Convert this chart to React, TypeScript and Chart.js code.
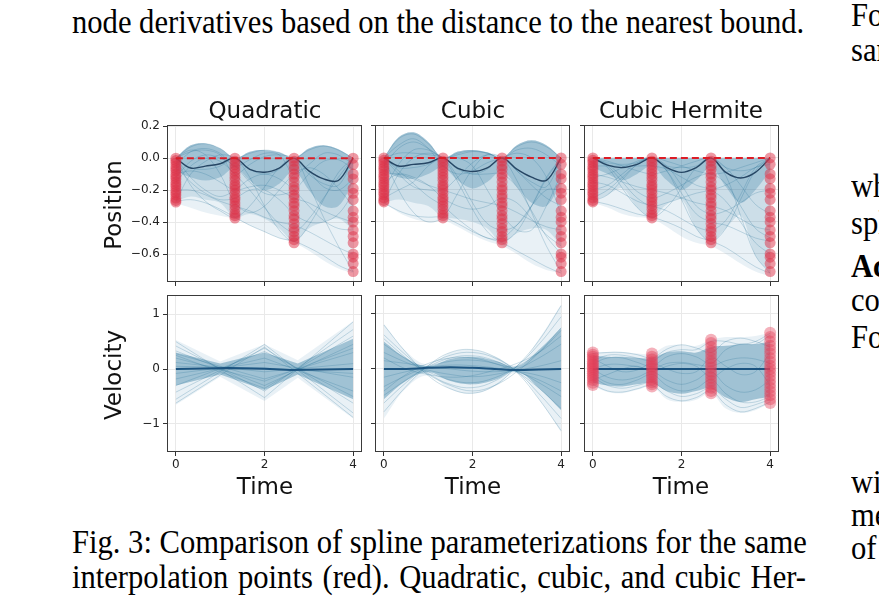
import React, { useEffect, useRef } from "react";
import { Chart, registerables } from "chart.js";
Chart.register(...registerables);

// ---------------- data ----------------
const TIME_TICKS = [0, 2, 4];
const POS_TICKS = [0.2, 0, -0.2, -0.4, -0.6];
const VEL_TICKS = [1, 0, -1];
const NODE_T = [0, 1.333, 2.667, 4];
const T13 = [0, 0.333, 0.667, 1, 1.333, 1.667, 2, 2.333, 2.667, 3, 3.333, 3.667, 4];
const T9 = [0, 0.5, 1, 1.5, 2, 2.5, 3, 3.5, 4];
const REF_T = [0, 4];
const REF_Y = [0, 0];

// interpolation points (red), shared by the three position panels
const RED_P0 = [0, -0.015, -0.03, -0.05, -0.065, -0.08, -0.1, -0.115, -0.13, -0.15, -0.165, -0.18, -0.2, -0.215, -0.23, -0.25, -0.265, -0.275];
const RED_P1 = [0, -0.02, -0.04, -0.06, -0.08, -0.1, -0.12, -0.14, -0.165, -0.18, -0.2, -0.22, -0.245, -0.26, -0.28, -0.3, -0.32, -0.345, -0.36, -0.375];
const RED_P2 = [0, -0.02, -0.05, -0.07, -0.1, -0.12, -0.15, -0.18, -0.2, -0.23, -0.25, -0.28, -0.3, -0.33, -0.36, -0.38, -0.41, -0.44, -0.46, -0.49, -0.51, -0.53];
const RED_P3 = [0, -0.04, -0.1, -0.13, -0.19, -0.22, -0.26, -0.33, -0.37, -0.4, -0.45, -0.49, -0.53, -0.6, -0.62, -0.66, -0.71];

// Quadratic position
const QP_MEAN = [0, -0.062, -0.05, -0.035, 0, -0.07, -0.088, -0.062, 0, -0.08, -0.13, -0.14, 0];
const QP_UP = [0, 0.08, 0.092, 0.06, 0, 0.04, 0.05, 0.035, 0, 0.06, 0.08, 0.055, 0];
const QP_LO = [-0.28, -0.31, -0.34, -0.36, -0.38, -0.42, -0.46, -0.5, -0.53, -0.58, -0.64, -0.69, -0.72];
const QP_CORE_LO = [-0.27, -0.24, -0.26, -0.28, -0.37, -0.35, -0.38, -0.44, -0.52, -0.44, -0.4, -0.38, -0.45];
const QP_DENSE_LO = [-0.08, -0.12, -0.14, -0.12, -0.06, -0.14, -0.2, -0.16, -0.08, -0.2, -0.3, -0.3, -0.15];
const QP_CURVES = [
  [0, 0.07, 0.09, 0.06, 0, 0.03, 0.05, 0.035, 0, 0.05, 0.075, 0.05, 0],
  [0, 0.04, 0.05, 0.02, -0.1, -0.04, 0.01, 0.02, 0, -0.08, -0.18, -0.2, -0.13],
  [-0.27, -0.26, -0.28, -0.32, -0.37, -0.42, -0.46, -0.5, -0.52, -0.56, -0.61, -0.67, -0.71],
  [0, -0.12, -0.2, -0.24, -0.2, -0.13, -0.1, -0.13, -0.2, -0.3, -0.39, -0.44, -0.45],
  [-0.15, -0.05, 0, -0.02, -0.1, -0.2, -0.31, -0.41, -0.46, -0.38, -0.25, -0.12, 0],
  [0, -0.17, -0.27, -0.33, -0.37, -0.3, -0.18, -0.06, 0, -0.17, -0.37, -0.55, -0.71],
  [-0.27, -0.1, -0.02, 0.02, 0, -0.12, -0.3, -0.45, -0.52, -0.42, -0.26, -0.09, 0],
  [-0.1, -0.08, -0.1, -0.15, -0.2, -0.18, -0.17, -0.2, -0.25, -0.28, -0.33, -0.37, -0.4],
  [-0.2, -0.2, -0.23, -0.27, -0.3, -0.33, -0.37, -0.4, -0.42, -0.46, -0.51, -0.56, -0.6],
  [0, -0.06, -0.07, -0.05, 0, -0.07, -0.1, -0.07, 0, -0.1, -0.16, -0.17, 0],
  [-0.05, 0.04, 0.06, 0.03, -0.05, -0.01, 0.03, 0.02, -0.1, -0.04, 0.03, 0.02, -0.04],
  [0, 0.05, 0.02, -0.1, -0.28, -0.34, -0.3, -0.2, -0.1, -0.06, -0.1, -0.19, -0.3],
  [-0.05, -0.15, -0.22, -0.26, -0.25, -0.2, -0.2, -0.26, -0.35, -0.4, -0.4, -0.35, -0.22],
  [-0.12, -0.02, 0.02, 0, -0.05, -0.15, -0.22, -0.23, -0.2, -0.1, -0.02, -0.01, -0.07],
];

// Cubic position
const CP_MEAN = [0, -0.05, -0.04, -0.03, 0, -0.065, -0.085, -0.062, 0, -0.07, -0.12, -0.14, 0];
const CP_UP = [0, 0.13, 0.16, 0.1, 0, 0.04, 0.05, 0.035, 0, 0.08, 0.11, 0.08, 0];
const CP_LO = [-0.28, -0.34, -0.38, -0.4, -0.39, -0.43, -0.48, -0.52, -0.55, -0.6, -0.66, -0.7, -0.72];
const CP_CORE_LO = [-0.28, -0.26, -0.28, -0.3, -0.37, -0.38, -0.4, -0.44, -0.53, -0.47, -0.44, -0.45, -0.55];
const CP_DENSE_LO = [-0.08, -0.12, -0.13, -0.1, -0.06, -0.14, -0.19, -0.15, -0.08, -0.18, -0.28, -0.3, -0.15];
const CP_CURVES = [
  [0, 0.12, 0.15, 0.09, 0, 0.03, 0.045, 0.03, 0, 0.07, 0.1, 0.07, 0],
  [-0.28, -0.33, -0.36, -0.37, -0.37, -0.41, -0.46, -0.5, -0.53, -0.58, -0.63, -0.68, -0.72],
  [0, -0.2, -0.34, -0.4, -0.37, -0.22, -0.07, 0.02, 0, -0.14, -0.34, -0.55, -0.71],
  [-0.28, -0.1, 0, 0.03, 0, -0.15, -0.32, -0.46, -0.52, -0.46, -0.3, -0.12, 0],
  [0, 0.03, 0.03, 0.02, 0, -0.12, -0.28, -0.41, -0.45, -0.42, -0.3, -0.13, 0],
  [-0.1, -0.1, -0.13, -0.17, -0.2, -0.23, -0.26, -0.28, -0.3, -0.34, -0.39, -0.43, -0.45],
  [0, -0.1, -0.18, -0.2, -0.2, -0.12, -0.03, 0.02, 0, -0.08, -0.17, -0.25, -0.3],
  [-0.2, -0.04, 0.05, 0.05, 0, -0.06, -0.1, -0.1, -0.1, -0.18, -0.33, -0.49, -0.6],
  [0, -0.08, -0.16, -0.24, -0.3, -0.38, -0.45, -0.5, -0.5, -0.42, -0.3, -0.2, -0.2],
  [-0.05, 0.06, 0.1, 0.06, 0, 0.02, 0.04, 0.03, 0, 0.05, 0.06, 0.02, -0.05],
  [0, -0.06, -0.06, -0.04, 0, -0.07, -0.1, -0.07, 0, -0.08, -0.15, -0.18, 0],
  [-0.15, -0.1, -0.12, -0.17, -0.25, -0.3, -0.32, -0.3, -0.25, -0.28, -0.38, -0.48, -0.55],
  [-0.25, -0.2, -0.15, -0.05, 0, 0, -0.05, -0.2, -0.35, -0.45, -0.45, -0.3, -0.1],
  [0, 0.08, 0.12, 0.06, -0.05, -0.1, -0.08, -0.03, 0, 0.03, 0, -0.12, -0.35],
];

// Cubic Hermite position
const HP_MEAN = [0, -0.045, -0.06, -0.04, 0, -0.06, -0.09, -0.06, 0, -0.09, -0.125, -0.09, 0];
const HP_UP = [0, 0, 0, 0, 0, 0, 0, 0, 0, 0, 0, 0, 0];
const HP_LO = [-0.28, -0.31, -0.35, -0.37, -0.38, -0.43, -0.49, -0.53, -0.55, -0.6, -0.66, -0.71, -0.74];
const HP_CORE_LO = [-0.27, -0.23, -0.19, -0.31, -0.37, -0.29, -0.26, -0.44, -0.52, -0.44, -0.36, -0.61, -0.72];
const HP_DENSE_LO = [-0.06, -0.1, -0.14, -0.1, -0.05, -0.14, -0.2, -0.14, -0.06, -0.18, -0.28, -0.2, -0.08];
const HP_CURVES = [
  [0, -0.06, -0.19, -0.31, -0.37, -0.31, -0.19, -0.06, 0, -0.11, -0.36, -0.61, -0.72],
  [-0.27, -0.23, -0.135, -0.04, 0, -0.08, -0.26, -0.44, -0.52, -0.44, -0.26, -0.08, 0],
  [0, -0.03, -0.04, -0.03, 0, -0.05, -0.06, -0.05, 0, -0.06, -0.08, -0.06, 0],
  [-0.27, -0.29, -0.32, -0.35, -0.37, -0.4, -0.44, -0.49, -0.52, -0.56, -0.62, -0.68, -0.72],
  [-0.1, -0.12, -0.15, -0.18, -0.2, -0.22, -0.25, -0.28, -0.3, -0.33, -0.38, -0.43, -0.45],
  [0, -0.04, -0.12, -0.21, -0.25, -0.22, -0.17, -0.12, -0.1, -0.16, -0.3, -0.44, -0.5],
  [-0.2, -0.17, -0.1, -0.03, 0, -0.05, -0.17, -0.3, -0.35, -0.33, -0.28, -0.22, -0.2],
  [0, -0.02, -0.05, -0.08, -0.1, -0.08, -0.05, -0.02, 0, -0.06, -0.17, -0.29, -0.35],
  [-0.15, -0.17, -0.22, -0.27, -0.3, -0.33, -0.38, -0.43, -0.45, -0.39, -0.23, -0.06, 0],
  [-0.05, -0.05, -0.05, -0.05, -0.05, -0.07, -0.12, -0.17, -0.2, -0.27, -0.4, -0.53, -0.6],
  [-0.25, -0.2, -0.12, -0.04, 0, -0.02, -0.05, -0.08, -0.1, -0.09, -0.06, -0.03, 0],
  [0, -0.05, -0.15, -0.25, -0.3, -0.28, -0.25, -0.22, -0.2, -0.17, -0.12, -0.06, -0.04],
  [-0.12, -0.1, -0.06, -0.02, 0, -0.08, -0.22, -0.35, -0.4, -0.42, -0.46, -0.5, -0.52],
];

// Quadratic velocity (piecewise linear)
const QV_T = [0, 2, 4];
const QV_CURVES = [
  [0.5, -0.52, 0.86], [0.42, -0.4, 0.72], [0.33, -0.3, 0.45], [0.28, -0.18, 0.3],
  [0.2, -0.22, 0.38], [0.12, -0.05, 0.1], [0.05, 0.02, -0.08], [-0.08, 0.12, -0.15],
  [-0.18, 0.2, -0.4], [-0.3, 0.32, -0.5], [-0.42, 0.38, -0.62], [-0.55, 0.45, -0.8],
  [-0.62, 0.4, -0.88], [0.25, -0.35, 0.6],
];
const QV_ENV_T = [0, 1, 2, 2.75, 4];
const QV_UP = [0.53, 0.14, 0.45, 0.16, 0.87];
const QV_LO = [-0.65, -0.14, -0.58, -0.16, -0.9];
const QV_CORE_UP = [0.3, 0.1, 0.3, 0.1, 0.55];
const QV_CORE_LO = [-0.3, -0.1, -0.38, -0.1, -0.55];
const QV_MEAN_T = [0, 1.2, 2, 2.6, 4];
const QV_MEAN = [0, 0.02, 0.005, -0.015, 0];

// Cubic velocity
const CV_CURVES = [
  [0.8, 0.3, -0.12, -0.36, -0.44, -0.3, 0.05, 0.52, 1.15],
  [0.62, 0.25, -0.08, -0.28, -0.34, -0.22, 0.05, 0.45, 0.95],
  [0.45, 0.18, -0.05, -0.2, -0.25, -0.16, 0.04, 0.3, 0.7],
  [0.3, 0.12, -0.02, -0.1, -0.14, -0.1, 0, 0.2, 0.45],
  [0.15, 0.1, 0.04, 0, -0.04, -0.05, -0.02, 0.05, 0.15],
  [-0.15, -0.05, 0.03, 0.07, 0.06, 0.02, -0.04, -0.12, -0.25],
  [-0.32, -0.12, 0.04, 0.14, 0.16, 0.1, -0.03, -0.25, -0.5],
  [-0.48, -0.2, 0.04, 0.2, 0.24, 0.15, -0.05, -0.35, -0.72],
  [-0.62, -0.25, 0.06, 0.25, 0.3, 0.2, -0.05, -0.45, -0.9],
  [-0.78, -0.32, 0.06, 0.3, 0.35, 0.22, -0.06, -0.55, -1.12],
  [0.55, 0.2, -0.1, -0.3, -0.4, -0.3, -0.05, 0.3, 0.75],
  [-0.4, -0.1, 0.1, 0.2, 0.2, 0.1, -0.05, -0.2, -0.4],
  [0.2, 0, -0.1, -0.15, -0.12, -0.02, 0.1, 0.3, 0.6],
];
const CV_UP = [0.82, 0.32, 0.08, 0.3, 0.35, 0.23, 0.07, 0.55, 1.17];
const CV_LO = [-0.9, -0.35, -0.12, -0.37, -0.45, -0.32, -0.08, -0.55, -1.15];
const CV_CORE_UP = [0.5, 0.2, 0.05, 0.18, 0.22, 0.15, 0.05, 0.35, 0.75];
const CV_CORE_LO = [-0.55, -0.22, -0.06, -0.22, -0.28, -0.2, -0.05, -0.35, -0.75];
const CV_MEAN = [0, 0, 0.02, 0.03, 0.02, 0, -0.02, -0.01, 0];

// Cubic Hermite velocity
const HV_CURVES = [
  [0.28, 0.3, 0.3, 0.26, 0.2, 0.36, 0.44, 0.38, 0.3, 0.5, 0.56, 0.5, 0.4],
  [-0.28, -0.4, -0.42, -0.36, -0.3, -0.5, -0.58, -0.52, -0.4, -0.65, -0.78, -0.72, -0.6],
  [0.1, 0.2, 0.2, 0.12, 0.05, 0.22, 0.28, 0.22, 0.1, 0.35, 0.45, 0.45, 0.62],
  [-0.1, -0.25, -0.28, -0.2, -0.1, -0.3, -0.4, -0.35, -0.2, -0.45, -0.6, -0.6, -0.5],
  [0, 0.08, 0.08, 0.04, 0, 0.1, 0.12, 0.08, 0.05, 0.15, 0.2, 0.18, 0.1],
  [0.2, 0.05, -0.05, -0.02, 0.1, 0, -0.08, -0.05, 0.2, 0.05, -0.1, -0.05, 0.3],
  [-0.2, -0.1, 0, 0.05, -0.05, 0.05, 0.1, 0.05, -0.15, 0, 0.1, 0.05, -0.3],
  [0, -0.15, -0.2, -0.15, -0.05, -0.2, -0.28, -0.2, -0.05, -0.3, -0.42, -0.38, -0.2],
  [0.15, 0.25, 0.25, 0.2, 0.15, 0.3, 0.35, 0.35, 0.5, 0.5, 0.45, 0.5, 0.65],
  [-0.15, -0.3, -0.35, -0.3, -0.25, -0.4, -0.5, -0.45, -0.35, -0.55, -0.7, -0.65, -0.55],
];
const HV_UP = [0.3, 0.31, 0.31, 0.28, 0.28, 0.42, 0.44, 0.42, 0.53, 0.58, 0.58, 0.6, 0.66];
const HV_LO = [-0.3, -0.42, -0.44, -0.38, -0.32, -0.55, -0.6, -0.56, -0.44, -0.72, -0.8, -0.75, -0.62];
const HV_CORE_UP = [0.25, 0.22, 0.22, 0.2, 0.2, 0.3, 0.32, 0.3, 0.4, 0.42, 0.45, 0.45, 0.5];
const HV_CORE_LO = [-0.25, -0.3, -0.32, -0.28, -0.25, -0.4, -0.45, -0.4, -0.35, -0.52, -0.6, -0.55, -0.5];
const HV_MEAN = [0, 0, 0, 0, 0, 0, 0, 0, 0, 0, 0, 0, 0];
const RED_V0 = [0.3, 0.26, 0.22, 0.18, 0.14, 0.1, 0.07, 0.03, 0, -0.04, -0.08, -0.12, -0.16, -0.2, -0.25, -0.29];
const RED_V1 = [0.28, 0.22, 0.17, 0.12, 0.08, 0.04, 0, -0.05, -0.1, -0.14, -0.19, -0.24, -0.28, -0.32];
const RED_V2 = [0.53, 0.47, 0.4, 0.33, 0.27, 0.2, 0.14, 0.08, 0.02, -0.04, -0.1, -0.16, -0.22, -0.28, -0.34, -0.4, -0.44];
const RED_V3 = [0.66, 0.58, 0.5, 0.42, 0.35, 0.28, 0.2, 0.13, 0.06, 0, -0.06, -0.13, -0.2, -0.27, -0.34, -0.41, -0.48, -0.55, -0.62];

// ---------------- styling ----------------
const FAN_LINE = "rgba(38,112,152,0.24)";
const ENV_FILL = "rgba(85,150,185,0.13)";
const CORE_FILL = "rgba(60,130,168,0.17)";
const DENSE_FILL = "rgba(45,118,158,0.27)";
const VEL_CORE_FILL = "rgba(42,118,158,0.38)";
const RED_DOT = "rgba(222,50,72,0.5)";
const RED_DOT_V = "rgba(228,60,84,0.4)";
const RED_LINE = "rgb(220,28,38)";
const GRID = "#e9e9e9";

const pts = (xs: number[], ys: number[]) => xs.map((x, i) => ({ x, y: ys[i] }));
const col = (x: number, ys: number[]) => ys.map((y) => ({ x, y }));

function fan(xs: number[], curves: number[][], tension: number) {
  return curves.map((c) => ({
    data: pts(xs, c), borderColor: FAN_LINE, borderWidth: 1, pointRadius: 0,
    tension, fill: false, order: 3,
  }));
}
function band(xs: number[], up: number[], lo: number[], tension: number, color: string, order: number) {
  return [
    { data: pts(xs, up), borderWidth: 0, borderColor: "rgba(0,0,0,0)", backgroundColor: color, fill: "+1", pointRadius: 0, tension, order },
    { data: pts(xs, lo), borderWidth: 0, borderColor: "rgba(0,0,0,0)", fill: false, pointRadius: 0, tension, order },
  ];
}
function redCols(cols: number[][], color: string, radius: number) {
  const data: { x: number; y: number }[] = [];
  cols.forEach((ys, i) => data.push(...col(NODE_T[i], ys)));
  return { data, showLine: false, pointRadius: radius, pointBackgroundColor: color, pointBorderWidth: 0, pointBorderColor: "rgba(0,0,0,0)", order: 1 };
}
function meanLine(xs: number[], ys: number[], color: string, width: number, tension: number) {
  return { data: pts(xs, ys), borderColor: color, borderWidth: width, pointRadius: 0, tension, fill: false, order: 2 };
}
const refLine = () => ({ data: pts(REF_T, REF_Y), borderColor: RED_LINE, borderWidth: 2, borderDash: [7, 4], pointRadius: 0, fill: false, order: 0 });

function posSets(curves: number[][], mean: number[], up: number[], lo: number[], coreLo: number[], denseLo: number[]) {
  return [
    refLine(),
    redCols([RED_P0, RED_P1, RED_P2, RED_P3], RED_DOT, 5.5),
    meanLine(T13, mean, "rgb(38,70,100)", 1.4, 0.35),
    ...fan(T13, curves, 0.35),
    ...band(T13, up, denseLo, 0.35, DENSE_FILL, 4),
    ...band(T13, up, coreLo, 0.35, CORE_FILL, 5),
    ...band(T13, up, lo, 0.35, ENV_FILL, 6),
  ];
}

const framePlugin = {
  id: "frame",
  afterDatasetsDraw(chart: any) {
    const { ctx, chartArea: a } = chart;
    ctx.save();
    ctx.strokeStyle = "#3a3a3a";
    ctx.lineWidth = 1;
    ctx.strokeRect(Math.round(a.left) + 0.5, Math.round(a.top) + 0.5, Math.round(a.right - a.left) - 1, Math.round(a.bottom - a.top) - 1);
    ctx.restore();
  },
};

const PADL = 50, PADT = 10, PADR = 8, PADB = 30;
const COL_X = [167, 375, 584];
const ROW_Y = [125, 295];
const PW = 195, PH = 157;
const POS_RANGE = [-0.775, 0.206];
const VEL_RANGE = [-1.51, 1.345];

const fmtNum = (v: number, digits: number) => (v < 0 ? "\u2212" : "") + Math.abs(v).toFixed(digits);

function Panel(props: { col: number; row: number; build: () => any[]; showX: boolean; showY: boolean }) {
  const ref = useRef<HTMLCanvasElement | null>(null);
  const isPos = props.row === 0;
  useEffect(() => {
    const range = isPos ? POS_RANGE : VEL_RANGE;
    const yt = isPos ? POS_TICKS : VEL_TICKS;
    const tickFont = { family: "DejaVu Sans", size: 12 };
    const chart = new Chart(ref.current as HTMLCanvasElement, {
      type: "line",
      data: { datasets: props.build() },
      options: {
        animation: false,
        responsive: false,
        events: [],
        layout: { padding: { top: PADT, right: PADR, left: 0, bottom: 0 } },
        plugins: { legend: { display: false }, tooltip: { enabled: false } },
        scales: {
          x: {
            type: "linear", min: -0.2, max: 4.2,
            afterBuildTicks: (s: any) => { s.ticks = TIME_TICKS.map((v) => ({ value: v })); },
            afterFit: (s: any) => { s.height = PADB; },
            grid: { color: GRID, lineWidth: 1, drawTicks: true, tickLength: 4, tickColor: "#333" },
            border: { display: false },
            ticks: { display: props.showX, font: tickFont, color: "#222", padding: 2, maxRotation: 0, autoSkip: false, callback: (v: any) => String(v) },
          },
          y: {
            type: "linear", min: range[0], max: range[1],
            afterBuildTicks: (s: any) => { s.ticks = yt.map((v) => ({ value: v })); },
            afterFit: (s: any) => { s.width = PADL; },
            grid: { color: GRID, lineWidth: 1, drawTicks: true, tickLength: 4, tickColor: "#333" },
            border: { display: false },
            ticks: { display: props.showY, font: tickFont, color: "#222", padding: 3, autoSkip: false, callback: (v: any) => (isPos ? fmtNum(v, 1) : fmtNum(v, 0)) },
          },
        },
      } as any,
      plugins: [framePlugin],
    });
    return () => chart.destroy();
  }, []);
  const left = COL_X[props.col] - PADL;
  const top = ROW_Y[props.row] - PADT;
  const w = PW + PADL + PADR;
  const h = PH + PADT + PADB;
  return <canvas ref={ref} width={w} height={h} style={{ position: "absolute", left, top, width: w, height: h }} />;
}

const sans = '"DejaVu Sans", sans-serif';
function Label(props: { x: number; y: number; text: string; rot?: boolean; size?: number }) {
  return (
    <div style={{ position: "absolute", left: props.x, top: props.y, transform: `translate(-50%,-50%)${props.rot ? " rotate(-90deg)" : ""}`, fontFamily: sans, fontSize: props.size || 23, lineHeight: "26px", whiteSpace: "nowrap", color: "#111" }}>
      {props.text}
    </div>
  );
}

const SERIF_SIZE = 33.7;
const SERIF_SQUEEZE = 0.908;
function TextLine(props: { x: number; baseline: number; text: string; width?: number; bold?: boolean }) {
  const top = props.baseline - 28.4;
  const w = props.width ? props.width / SERIF_SQUEEZE : undefined;
  return (
    <div style={{ position: "absolute", left: props.x, top, width: w, fontSize: SERIF_SIZE, lineHeight: "34px", whiteSpace: "nowrap", textAlign: props.width ? "justify" : "left", textAlignLast: props.width ? "justify" : "auto", fontWeight: props.bold ? "bold" : "normal", color: "#000", transform: `scaleX(${SERIF_SQUEEZE})`, transformOrigin: "0 0" } as any}>
      {props.text}
    </div>
  );
}

export default function App() {
  return (
    <div style={{ position: "fixed", left: 0, top: 0, width: 879, height: 600, overflow: "hidden", background: "#fff", fontFamily: '"Liberation Serif", "Times New Roman", serif' }}>
      <TextLine x={72} baseline={33} text="node derivatives based on the distance to the nearest bound." />
      <TextLine x={72} baseline={553} width={734} text="Fig. 3: Comparison of spline parameterizations for the same" />
      <TextLine x={72} baseline={588} width={734} text="interpolation points (red). Quadratic, cubic, and cubic Her-" />

      <TextLine x={851} baseline={26} text="For each" />
      <TextLine x={851} baseline={61} text="sampled" />
      <TextLine x={851} baseline={197} text="where" />
      <TextLine x={851} baseline={234} text="spline" />
      <TextLine x={851} baseline={277} text="Acceleration" bold />
      <TextLine x={851} baseline={311} text="constraints" />
      <TextLine x={851} baseline={348} text="For" />
      <TextLine x={851} baseline={493} text="with" />
      <TextLine x={851} baseline={526} text="method" />
      <TextLine x={851} baseline={559} text="of" />

      <Panel col={0} row={0} showX={false} showY build={() => posSets(QP_CURVES, QP_MEAN, QP_UP, QP_LO, QP_CORE_LO, QP_DENSE_LO)} />
      <Panel col={1} row={0} showX={false} showY={false} build={() => posSets(CP_CURVES, CP_MEAN, CP_UP, CP_LO, CP_CORE_LO, CP_DENSE_LO)} />
      <Panel col={2} row={0} showX={false} showY={false} build={() => posSets(HP_CURVES, HP_MEAN, HP_UP, HP_LO, HP_CORE_LO, HP_DENSE_LO)} />
      <Panel col={0} row={1} showX showY build={() => [
        meanLine(QV_MEAN_T, QV_MEAN, "rgb(28,84,128)", 2, 0),
        ...fan(QV_T, QV_CURVES, 0),
        ...band(QV_ENV_T, QV_CORE_UP, QV_CORE_LO, 0, VEL_CORE_FILL, 4),
        ...band(QV_ENV_T, QV_UP, QV_LO, 0, ENV_FILL, 5),
      ]} />
      <Panel col={1} row={1} showX showY={false} build={() => [
        meanLine(T9, CV_MEAN, "rgb(28,84,128)", 2, 0.4),
        ...fan(T9, CV_CURVES, 0.4),
        ...band(T9, CV_CORE_UP, CV_CORE_LO, 0.4, VEL_CORE_FILL, 4),
        ...band(T9, CV_UP, CV_LO, 0.4, ENV_FILL, 5),
      ]} />
      <Panel col={2} row={1} showX showY={false} build={() => [
        redCols([RED_V0, RED_V1, RED_V2, RED_V3], RED_DOT_V, 6),
        meanLine(T13, HV_MEAN, "rgb(28,84,128)", 2, 0),
        ...fan(T13, HV_CURVES, 0.35),
        ...band(T13, HV_CORE_UP, HV_CORE_LO, 0.35, VEL_CORE_FILL, 4),
        ...band(T13, HV_UP, HV_LO, 0.35, ENV_FILL, 5),
      ]} />

      <Label x={265} y={110} text="Quadratic" />
      <Label x={473} y={110} text="Cubic" />
      <Label x={681} y={110} text="Cubic Hermite" />
      <Label x={113} y={205} text="Position" rot />
      <Label x={113} y={375} text="Velocity" rot />
      <Label x={265} y={486} text="Time" />
      <Label x={473} y={486} text="Time" />
      <Label x={681} y={486} text="Time" />
    </div>
  );
}
